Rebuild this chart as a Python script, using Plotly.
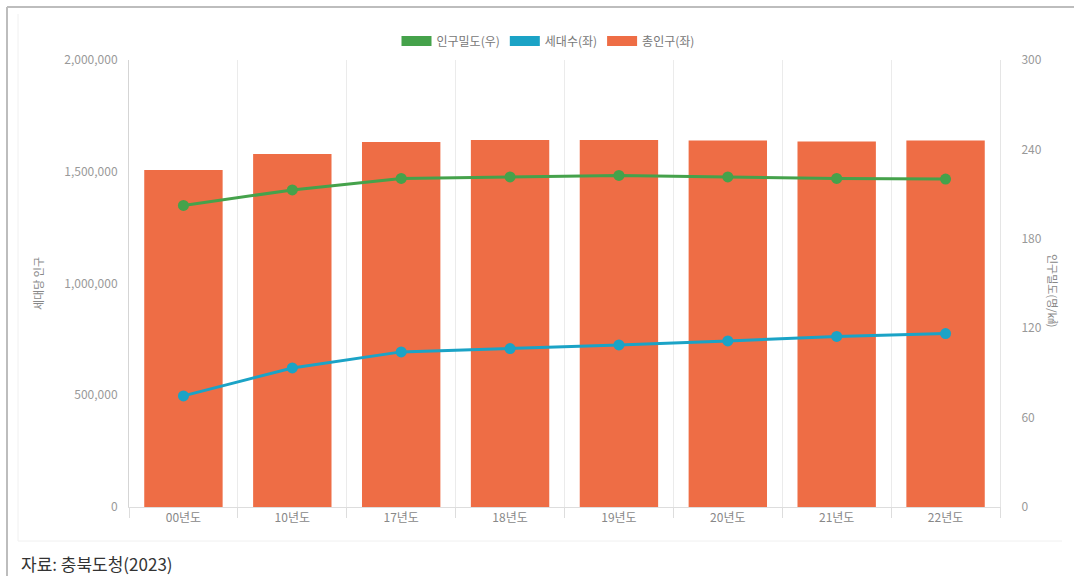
import plotly.graph_objects as go

categories = ["00년도", "10년도", "17년도", "18년도", "19년도", "20년도", "21년도", "22년도"]
total_pop = [1508000, 1579000, 1633000, 1642000, 1642000, 1640000, 1635000, 1640000]
households = [497000, 622000, 694000, 709000, 725000, 743000, 763000, 776000]
density = [202.4, 212.8, 220.5, 221.5, 222.5, 221.5, 220.5, 220.1]

left_ticks = [0, 500000, 1000000, 1500000, 2000000]
right_ticks = [0, 60, 120, 180, 240, 300]

ORANGE = "#EE6D45"
GREEN = "#45A24B"
BLUE = "#1BA3C6"
FONT = "Noto Sans CJK KR"

W, H = 1074, 576
L, R, T, B = 129, 74, 60, 69
PW, PH = W - L - R, H - T - B


def px(x):
    return (x - L) / PW


def py(y):
    return (H - B - y) / PH


fig = go.Figure()

fig.add_trace(go.Bar(x=categories, y=total_pop, marker=dict(color=ORANGE, line=dict(width=0)),
                     name="총인구(좌)", showlegend=False, yaxis="y"))
fig.add_trace(go.Scatter(x=categories, y=households, mode="lines+markers", name="세대수(좌)",
                         line=dict(color=BLUE, width=3), marker=dict(size=11, color=BLUE),
                         showlegend=False, yaxis="y"))
fig.add_trace(go.Scatter(x=categories, y=density, mode="lines+markers", name="인구밀도(우)",
                         line=dict(color=GREEN, width=3), marker=dict(size=11, color=GREEN),
                         showlegend=False, yaxis="y2"))

for nm, col in [("인구밀도(우)", GREEN), ("세대수(좌)", BLUE), ("총인구(좌)", ORANGE)]:
    fig.add_trace(go.Scatter(x=[None], y=[None], mode="lines", name=nm,
                             line=dict(color=col, width=16), showlegend=True, yaxis="y"))

shapes = [
    dict(type="line", xref="paper", yref="paper", x0=px(7), x1=px(W), y0=py(7), y1=py(7),
         line=dict(color="#BDBDBD", width=2)),
    dict(type="line", xref="paper", yref="paper", x0=px(7), x1=px(7), y0=py(7), y1=py(H),
         line=dict(color="#BDBDBD", width=2)),
    dict(type="line", xref="paper", yref="paper", x0=px(18), x1=px(1062), y0=py(541), y1=py(541),
         line=dict(color="#F0F0F0", width=1)),
    dict(type="line", xref="paper", yref="paper", x0=px(18), x1=px(18), y0=py(14), y1=py(541),
         line=dict(color="#F0F0F0", width=1)),
]

annotations = [
    dict(text="세대당 인구", xref="paper", yref="paper", x=px(38), y=py(284), textangle=-90,
         showarrow=False, font=dict(family=FONT, size=11, color="#888888"),
         xanchor="center", yanchor="middle"),
    dict(text="인구밀도(명/㎢)", xref="paper", yref="paper", x=px(1053), y=py(290), textangle=90,
         showarrow=False, font=dict(family=FONT, size=11, color="#888888"),
         xanchor="center", yanchor="middle"),
    dict(text="자료: 충북도청(2023)", xref="paper", yref="paper", x=px(19), y=py(563),
         showarrow=False, font=dict(family=FONT, size=17, color="#333333"),
         xanchor="left", yanchor="middle"),
]

fig.update_layout(
    width=W, height=H,
    margin=dict(l=L, r=R, t=T, b=B, autoexpand=False),
    paper_bgcolor="white", plot_bgcolor="white",
    font=dict(family=FONT, size=12, color="#888888"),
    bargap=0.28,
    showlegend=True,
    legend=dict(orientation="h", x=px(548), xanchor="center", y=py(41), yanchor="middle",
                font=dict(family=FONT, size=12, color="#777777"), itemwidth=30,
                bgcolor="rgba(0,0,0,0)"),
    xaxis=dict(type="category", tickson="boundaries", showgrid=True, gridcolor="#EBEBEB",
               showline=True, linecolor="#DDDDDD", ticks="outside", ticklen=10, tickcolor="#DDDDDD",
               tickfont=dict(family=FONT, size=12, color="#888888"), range=[-0.5, 7.5]),
    yaxis=dict(range=[0, 2000000], tickvals=left_ticks, tickformat=",", showgrid=False,
               showline=True, linecolor="#D5D5D5", zeroline=False, ticks="",
               tickfont=dict(family=FONT, size=12, color="#999999"), ticklabelstandoff=8),
    yaxis2=dict(range=[0, 300], tickvals=right_ticks, overlaying="y", side="right", showgrid=False,
                showline=True, linecolor="#E5E5E5", zeroline=False, ticks="",
                tickfont=dict(family=FONT, size=12, color="#999999"), ticklabelstandoff=18),
    shapes=shapes,
    annotations=annotations,
)

fig.write_html("out.html", config={"displayModeBar": False},
               post_script="document.body.style.margin='0px';")
